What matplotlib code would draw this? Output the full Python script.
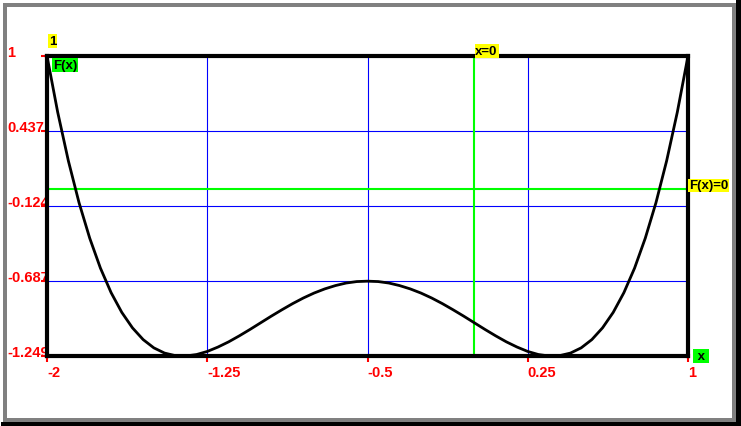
import matplotlib
matplotlib.use('Agg')
import matplotlib.pyplot as plt
from matplotlib.patches import Rectangle

plt.rcParams['font.family'] = ['Liberation Sans', 'DejaVu Sans']
plt.rcParams['font.weight'] = 'bold'

# curve F(x), every 0.05
x_vals = [-2.0, -1.95, -1.9, -1.85, -1.8, -1.75, -1.7, -1.65, -1.6, -1.55,
          -1.5, -1.45, -1.4, -1.35, -1.3, -1.25, -1.2, -1.15, -1.1, -1.05,
          -1.0, -0.95, -0.9, -0.85, -0.8, -0.75, -0.7, -0.65, -0.6, -0.55,
          -0.5, -0.45, -0.4, -0.35, -0.3, -0.25, -0.2, -0.15, -0.1, -0.05,
          0.0, 0.05, 0.1, 0.15, 0.2, 0.25, 0.3, 0.35, 0.4, 0.45,
          0.5, 0.55, 0.6, 0.65, 0.7, 0.75, 0.8, 0.85, 0.9, 0.95, 1.0]
f_vals = [1.0, 0.579, 0.214, -0.100, -0.366, -0.590, -0.774, -0.922, -1.038, -1.126,
          -1.188, -1.227, -1.246, -1.249, -1.238, -1.215, -1.182, -1.143, -1.098, -1.050,
          -1.0, -0.950, -0.902, -0.856, -0.814, -0.777, -0.746, -0.721, -0.702, -0.691,
          -0.688, -0.691, -0.702, -0.721, -0.746, -0.777, -0.814, -0.856, -0.902, -0.950,
          -1.0, -1.050, -1.098, -1.143, -1.182, -1.215, -1.238, -1.249, -1.246, -1.227,
          -1.188, -1.126, -1.038, -0.922, -0.774, -0.590, -0.366, -0.100, 0.214, 0.579, 1.0]

xticks = [-2, -1.25, -0.5, 0.25, 1]
xtick_labels = ['-2', '-1.25', '-0.5', '0.25', '1']
yticks = [1, 0.437, -0.124, -0.687, -1.249]
ytick_labels = ['1', '0.437', '-0.124', '-0.687', '-1.249']

W, H = 741, 427
fig = plt.figure(figsize=(W / 100, H / 100), dpi=100)
fig.patch.set_facecolor('white')

# window frame (pixel coords)
bg = fig.add_axes([0, 0, 1, 1], zorder=-1)
bg.set_xlim(0, W)
bg.set_ylim(H, 0)
bg.axis('off')
for r in [(736, 1, 5, 426), (1, 423, 740, 4)]:
    bg.add_patch(Rectangle(r[:2], r[2], r[3], fc='black', ec='none'))
for r in [(3, 4, 4, 419), (3, 4, 733, 4), (732, 4, 4, 419), (3, 419, 733, 4)]:
    bg.add_patch(Rectangle(r[:2], r[2], r[3], fc='#808080', ec='none'))

ax = fig.add_axes([47 / W, 70 / H, 641 / W, 300 / H])
ax.set_xlim(-2, 1)
ax.set_ylim(-1.249, 1)

for v in xticks[1:-1]:
    ax.axvline(v, color='#0000ff', lw=0.8, zorder=1)
for v in yticks[1:-1]:
    ax.axhline(v, color='#0000ff', lw=0.8, zorder=1)
ax.axvline(0, color='#00ff00', lw=1.5, zorder=2)
ax.axhline(0, color='#00ff00', lw=1.5, zorder=2)

ax.plot(x_vals, f_vals, color='black', lw=2, zorder=3)

for s in ax.spines.values():
    s.set_linewidth(3)
    s.set_color('black')
    s.set_zorder(5)

ax.set_xticks(xticks)
ax.set_yticks(yticks)
ax.set_xticklabels([])
ax.set_yticklabels([])
ax.tick_params(direction='out', length=4.3, width=1.5, color='red')

red = dict(color='red', fontsize=10.5, annotation_clip=False, textcoords='offset pixels')
for v, lab in zip(yticks, ytick_labels):
    ax.annotate(lab, xy=(0, v), xycoords=('axes fraction', 'data'), xytext=(-40, 0),
                ha='left', va='baseline', **red)
for v, lab in zip(xticks, xtick_labels):
    ax.annotate(lab, xy=(v, 0), xycoords=('data', 'axes fraction'), xytext=(0, -20),
                ha='left', va='baseline', **red)

def box(text, xy, xycoords, off, ha, va, fc):
    ax.annotate(text, xy=xy, xycoords=xycoords, xytext=off, textcoords='offset pixels',
                ha=ha, va=va, fontsize=9.5, color='black', annotation_clip=False, zorder=6,
                bbox=dict(boxstyle='square,pad=0.06', fc=fc, ec='none'))

box('1', (0, 1), 'axes fraction', (2, 9), 'left', 'bottom', '#ffff00')
box('F(x)', (0, 1), 'axes fraction', (6, -3), 'left', 'top', '#00ff00')
box('x=0', (0, 1), ('data', 'axes fraction'), (1, -1), 'left', 'bottom', '#ffff00')
box('F(x)=0', (1, 0), ('axes fraction', 'data'), (1, -2), 'left', 'bottom', '#ffff00')
box(' x ', (1, 0), 'axes fraction', (6, 0), 'left', 'center', '#00ff00')

fig.savefig('out.png', dpi=100)
